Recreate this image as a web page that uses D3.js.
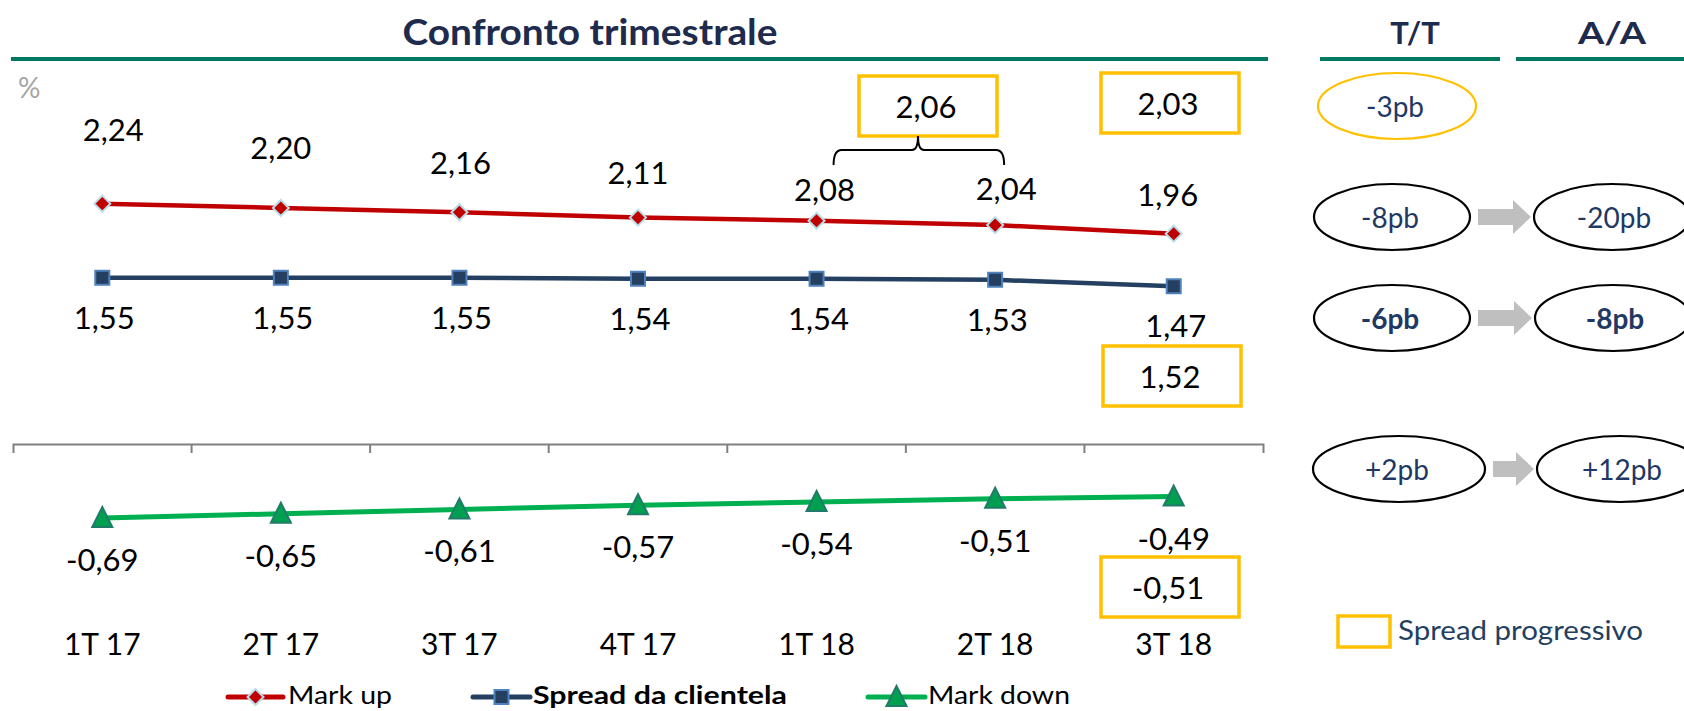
<!DOCTYPE html>
<html>
<head>
<meta charset="utf-8">
<script src="https://cdn.jsdelivr.net/npm/d3@7"></script>
<style>
  body { margin: 0; background: #fff; }
  text { font-family: Lato, "Open Sans", sans-serif; }
</style>
</head>
<body>
<svg id="chart" width="1684" height="711"></svg>
<script>
  // data
  var quarters = ['1T 17', '2T 17', '3T 17', '4T 17', '1T 18', '2T 18', '3T 18']
  var markUp = [2.24, 2.20, 2.16, 2.11, 2.08, 2.04, 1.96]
  var spread = [1.55, 1.55, 1.55, 1.54, 1.54, 1.53, 1.47]
  var markDown = [-0.69, -0.65, -0.61, -0.57, -0.54, -0.51, -0.49]
  // spread progressivo (yellow boxes)
  var progMarkUp12 = 2.06   // 1T-2T 18
  var progMarkUp = 2.03
  var progSpread = 1.52
  var progMarkDown = -0.51
  // deltas on the right
  var deltaTT = ['-3pb', '-8pb', '-6pb', '+2pb']
  var deltaAA = ['', '-20pb', '-8pb', '+12pb']

  // manual label nudges for mark up (dx, dy from point to baseline)
  var markUpLabelPos = [[11, -63], [0, -49], [1, -38], [0, -34], [8, -20], [11, -25], [-6, -28]]

  var navy = '#1f2b4d', teal = '#007a5e', gold = '#ffc000', ink = '#1f3864'
  var fmt = d3.formatLocale({decimal: ',', thousands: '.', grouping: [3], currency: ['', ''], minus: '-'}).format('.2f')

  var svg = d3.select('#chart')

  // header
  svg.append('text').attr('x', 590).attr('y', 45).attr('text-anchor', 'middle')
      .attr('font-size', 37).attr('font-weight', 'bold').attr('fill', navy)
      .attr('textLength', 375).attr('lengthAdjust', 'spacingAndGlyphs')
      .text('Confronto trimestrale')
  svg.append('text').attr('x', 1415).attr('y', 44).attr('text-anchor', 'middle')
      .attr('font-size', 31).attr('font-weight', 'bold').attr('fill', navy).text('T/T')
  svg.append('text').attr('x', 1612).attr('y', 44).attr('text-anchor', 'middle')
      .attr('font-size', 31).attr('font-weight', 'bold').attr('fill', navy)
      .attr('textLength', 68).attr('lengthAdjust', 'spacingAndGlyphs').text('A/A')
  var rules = [[11, 1268], [1320, 1500], [1516, 1684]]
  svg.selectAll('line.rule').data(rules).enter().append('line').attr('class', 'rule')
      .attr('x1', function (d) {return d[0]}).attr('x2', function (d) {return d[1]})
      .attr('y1', 59).attr('y2', 59).attr('stroke', teal).attr('stroke-width', 4)

  svg.append('text').attr('x', 18).attr('y', 98).attr('font-size', 28).attr('fill', '#a6a6a6').text('%')

  // scales
  var x = d3.scaleBand().domain(quarters).range([13, 1263])
  var cx = function (q) {return x(q) + x.bandwidth() / 2}
  var y = d3.scaleLinear().domain([-1, 3]).range([444 + 107.3, 444 - 3 * 107.3])

  // category axis crossing at 0, ticks between categories
  var axis = svg.append('g').attr('transform', 'translate(0,' + y(0) + ')')
      .call(d3.axisBottom(x).tickSizeInner(0).tickSizeOuter(9).tickFormat(''))
  axis.select('.domain').attr('stroke', '#808080').attr('stroke-width', 2)
  axis.selectAll('.tick').remove()
  svg.selectAll('line.btick').data(quarters.slice(1)).enter().append('line').attr('class', 'btick')
      .attr('x1', function (d) {return x(d)}).attr('x2', function (d) {return x(d)})
      .attr('y1', y(0)).attr('y2', y(0) + 9).attr('stroke', '#808080').attr('stroke-width', 2)
  svg.selectAll('text.cat').data(quarters).enter().append('text').attr('class', 'cat')
      .attr('x', cx).attr('y', 655).attr('text-anchor', 'middle').attr('font-size', 30).attr('fill', '#000')
      .text(function (d) {return d})

  var series = [
    {name: 'Mark up', values: markUp, color: '#c00000', marker: 'diamond', fill: '#c00000', stroke: '#b7dee8'},
    {name: 'Spread da clientela', values: spread, color: '#243f60', marker: 'square', fill: '#243f60', stroke: '#4f81bd'},
    {name: 'Mark down', values: markDown, color: '#00b050', marker: 'triangle', fill: '#00a050', stroke: '#217a6a'}
  ]

  function markerPath(type) {
    if (type === 'diamond') return 'M0,-8L8,0L0,8L-8,0Z'
    if (type === 'square') return 'M-7,-7H7V7H-7Z'
    return 'M0,-11L10,9H-10Z'
  }

  var line = d3.line().x(function (d, i) {return cx(quarters[i])}).y(function (d) {return y(d)})

  series.forEach(function (s) {
    svg.append('path').datum(s.values).attr('d', line).attr('fill', 'none')
        .attr('stroke', s.color).attr('stroke-width', s.marker === 'triangle' ? 5 : 4.5)
    svg.selectAll('path.m-' + s.marker).data(s.values).enter().append('path').attr('class', 'm-' + s.marker)
        .attr('transform', function (d, i) {return 'translate(' + cx(quarters[i]) + ',' + y(d) + ')'})
        .attr('d', markerPath(s.marker)).attr('fill', s.fill).attr('stroke', s.stroke).attr('stroke-width', 2)
  })

  // data labels
  svg.selectAll('text.lbl-up').data(markUp).enter().append('text').attr('class', 'lbl-up')
      .attr('x', function (d, i) {return cx(quarters[i]) + markUpLabelPos[i][0]})
      .attr('y', function (d, i) {return y(d) + markUpLabelPos[i][1]})
      .attr('text-anchor', 'middle').attr('font-size', 31).text(fmt)
  svg.selectAll('text.lbl-sp').data(spread).enter().append('text').attr('class', 'lbl-sp')
      .attr('x', function (d, i) {return cx(quarters[i]) + 2})
      .attr('y', function (d) {return y(d) + 51})
      .attr('text-anchor', 'middle').attr('font-size', 31).text(fmt)
  svg.selectAll('text.lbl-dn').data(markDown).enter().append('text').attr('class', 'lbl-dn')
      .attr('x', function (d, i) {return cx(quarters[i])})
      .attr('y', function (d) {return y(d) + 53})
      .attr('text-anchor', 'middle').attr('font-size', 31).text(fmt)

  // spread progressivo boxes
  var boxes = [
    {v: progMarkUp12, x0: 859, y0: 76},
    {v: progMarkUp, x0: 1101, y0: 73},
    {v: progSpread, x0: 1103, y0: 346},
    {v: progMarkDown, x0: 1101, y0: 557}
  ]
  var bw = 138, bh = 60
  var bg = svg.selectAll('g.box').data(boxes).enter().append('g').attr('class', 'box')
  bg.append('rect').attr('x', function (d) {return d.x0}).attr('y', function (d) {return d.y0})
      .attr('width', bw).attr('height', bh).attr('fill', 'none').attr('stroke', gold).attr('stroke-width', 3.5)
  bg.append('text').attr('x', function (d) {return d.x0 + bw / 2 - 2}).attr('y', function (d) {return d.y0 + 42})
      .attr('text-anchor', 'middle').attr('font-size', 31).text(function (d) {return fmt(d.v)})

  // brace under the 1T-2T 18 box
  var bl = cx('1T 18') + 17, br = cx('2T 18') + 9, bm = 918
  svg.append('path')
      .attr('d', 'M' + bl + ',165 Q' + bl + ',150 ' + (bl + 8) + ',150 H' + (bm - 6) +
          ' Q' + bm + ',150 ' + bm + ',136 Q' + bm + ',150 ' + (bm + 6) + ',150 H' + (br - 8) +
          ' Q' + br + ',150 ' + br + ',165')
      .attr('fill', 'none').attr('stroke', '#000').attr('stroke-width', 2)

  // deltas T/T and A/A
  var rowY = [106, 217, 318, 469]
  var ttX = [1397, 1392, 1392, 1399], ttR = [79, 78, 78, 86]
  var aaX = [0, 1612, 1613, 1620], aaR = [0, 78, 78, 83]
  deltaTT.forEach(function (t, i) {
    var bold = i === 2
    svg.append('ellipse').attr('cx', ttX[i]).attr('cy', rowY[i]).attr('rx', ttR[i]).attr('ry', 33)
        .attr('fill', 'none').attr('stroke', i === 0 ? gold : '#000').attr('stroke-width', 2.2)
    svg.append('text').attr('x', ttX[i] - 2).attr('y', rowY[i] + 11).attr('text-anchor', 'middle')
        .attr('font-size', 28).attr('font-weight', bold ? 'bold' : 'normal').attr('fill', ink).text(t)
    if (deltaAA[i]) {
      svg.append('ellipse').attr('cx', aaX[i]).attr('cy', rowY[i]).attr('rx', aaR[i]).attr('ry', 33)
          .attr('fill', 'none').attr('stroke', '#000').attr('stroke-width', 2.2)
      svg.append('text').attr('x', aaX[i] + 2).attr('y', rowY[i] + 11).attr('text-anchor', 'middle')
          .attr('font-size', 28).attr('font-weight', bold ? 'bold' : 'normal').attr('fill', ink).text(deltaAA[i])
      var a0 = ttX[i] + ttR[i] + 8, a1 = aaX[i] - aaR[i] - 3, hy = rowY[i]
      svg.append('path')
          .attr('d', 'M' + a0 + ',' + (hy - 8) + 'H' + (a1 - 18) + 'V' + (hy - 17) + 'L' + a1 + ',' + hy +
              'L' + (a1 - 18) + ',' + (hy + 17) + 'V' + (hy + 8) + 'H' + a0 + 'Z')
          .attr('fill', '#bfbfbf')
    }
  })

  // legends
  var legX = [{line: [228, 283], text: 288, len: 104}, {line: [473, 530], text: 533, len: 254}, {line: [868, 925], text: 928, len: 142}]
  series.forEach(function (s, i) {
    var L = legX[i]
    svg.append('line').attr('x1', L.line[0]).attr('x2', L.line[1]).attr('y1', 697).attr('y2', 697)
        .attr('stroke', s.color).attr('stroke-width', 5).attr('stroke-linecap', 'round')
    svg.append('path').attr('transform', 'translate(' + (L.line[0] + L.line[1]) / 2 + ',697)')
        .attr('d', markerPath(s.marker)).attr('fill', s.fill).attr('stroke', s.stroke).attr('stroke-width', 2)
    svg.append('text').attr('x', L.text).attr('y', 704).attr('font-size', 25)
        .attr('font-weight', i === 1 ? 'bold' : 'normal').attr('fill', '#000')
        .attr('textLength', L.len).attr('lengthAdjust', 'spacingAndGlyphs').text(s.name)
  })
  svg.append('rect').attr('x', 1338).attr('y', 616).attr('width', 52).attr('height', 31)
      .attr('fill', 'none').attr('stroke', gold).attr('stroke-width', 3.5)
  svg.append('text').attr('x', 1398).attr('y', 640).attr('font-size', 26).attr('fill', '#243f60')
      .attr('textLength', 245).attr('lengthAdjust', 'spacingAndGlyphs').text('Spread progressivo')
</script>
</body>
</html>
